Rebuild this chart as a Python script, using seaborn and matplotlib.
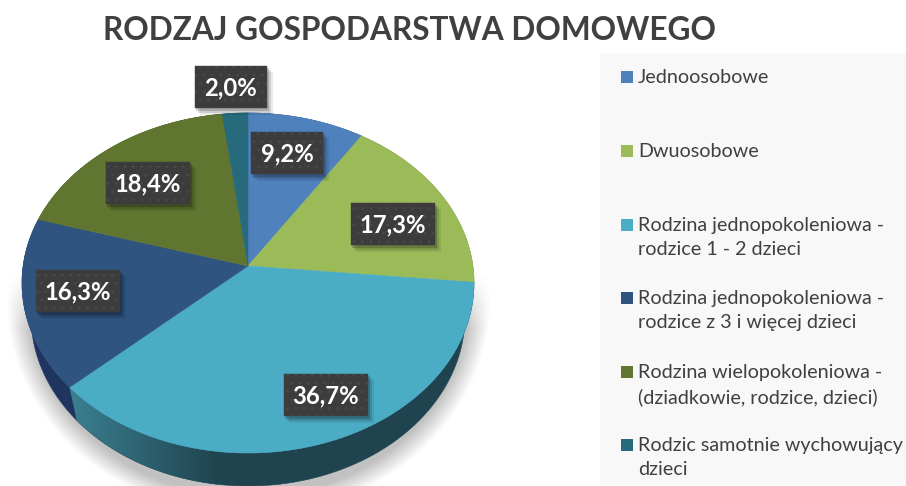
import numpy as np
import matplotlib
matplotlib.use("Agg")
import matplotlib.pyplot as plt
from matplotlib.patches import Polygon, Rectangle
import seaborn as sns

# ------------------------------------------------------------
# Rodzaj gospodarstwa domowego - "3D" pie
# ------------------------------------------------------------

title = "RODZAJ GOSPODARSTWA DOMOWEGO"
categories = [
    "Jednoosobowe",
    "Dwuosobowe",
    "Rodzina jednopokoleniowa -\nrodzice 1 - 2 dzieci",
    "Rodzina jednopokoleniowa -\nrodzice z 3 i więcej dzieci",
    "Rodzina wielopokoleniowa -\n(dziadkowie, rodzice, dzieci)",
    "Rodzic samotnie wychowujący\ndzieci",
]
values = [9.2, 17.3, 36.7, 16.3, 18.4, 2.0]

top_colors = ["#4f81bd", "#9bbb59", "#4bacc6", "#2f5480", "#5f7530", "#276a7c"]
side_colors = ["#3a5f8c", "#71893f", "#1f444f", "#1f3560", "#46561f", "#1c4e5b"]

# label box centres and legend rows, in reference pixels
label_px = [(287, 153), (393, 224), (326, 395), (78, 291), (148, 183), (231, 87)]
legend_rows_px = [77, 151, 225, 298, 372, 445]

W, H = 906, 486
CX, CY, RX, RY = 248, 283, 226, 170
DEPTH = 33 / RY
RIM = 0.96      # lower rim is a bit narrower than the top face
TILT = 0.1


def X(px):
    return (px - CX) / RX


def Y(py):
    return (CY - py) / RY


def tilt(xy):
    """Projective warp of the unit circle, moves the pie centre up."""
    xy = np.asarray(xy, dtype=float)
    d = 1 + TILT * xy[:, 1]
    return np.c_[xy[:, 0] * np.sqrt(1 - TILT ** 2) / d, (xy[:, 1] + TILT) / d]


sns.set_theme(style="white")
plt.rcParams["font.family"] = ["Lato", "DejaVu Sans"]
plt.rcParams["hatch.linewidth"] = 0.8

fig = plt.figure(figsize=(W / 100, H / 100), dpi=100, facecolor="white")
ax = fig.add_axes([0, 0, 1, 1])

wedges, _ = ax.pie(
    values,
    colors=sns.color_palette(top_colors),
    startangle=90,
    counterclock=False,
    radius=1,
)
ax.set_aspect("auto")
ax.axis("off")

# soft shadow under the pie
gx, gy = np.meshgrid(np.arange(0, W), np.arange(200, H))
e = np.sqrt(((gx - CX) / 242) ** 2 + ((gy - 300) / 215) ** 2)
alpha = np.clip((1 - e) / 0.09, 0, 1) * np.clip((gy - 275) / 55, 0, 1)
shadow = np.dstack([np.full(e.shape, 0.76)] * 3 + [alpha])
ax.imshow(shadow, extent=(X(0), X(W), Y(H), Y(200)), origin="upper", aspect="auto", zorder=1)

# redraw each wedge warped: side wall first, then the top face
apex = tilt([[0, 0]])
side_patches = []
for w, top, side in zip(wedges, top_colors, side_colors):
    t = np.radians(np.linspace(w.theta1, w.theta2, 120))
    arc = tilt(np.c_[np.cos(t), np.sin(t)])
    low = arc * [RIM, 1] - [0, DEPTH]
    patch = Polygon(np.vstack([arc, low[::-1]]), closed=True, fc=side, ec=side, lw=0.4, zorder=2)
    ax.add_patch(patch)
    side_patches.append(patch)
    ax.add_patch(Polygon(np.vstack([apex, arc]), closed=True, fc=top, ec=top, lw=0.4, zorder=5))
    w.set_visible(False)

# lighter part of the wall on the large slice
cmap = sns.blend_palette(["#3b8092", "#1f444f"], as_cmap=True)
grad = ax.imshow(
    np.linspace(0, 1, 200)[None, :], cmap=cmap, aspect="auto", zorder=3,
    extent=(X(68), X(218), Y(H), Y(380)),
)
grad.set_clip_path(side_patches[2])

# value labels
for (px, py), v in zip(label_px, values):
    txt = f"{v:.1f}%".replace(".", ",")
    half = 42 if v >= 10 else 35.5
    for off, a in [(7, 0.08), (5, 0.12), (3, 0.18)]:
        ax.add_patch(Rectangle((X(px - half + off - 2), Y(py + 21 + off)),
                               (2 * half + 1) / RX, (42 + 1) / RY,
                               fc="black", ec="none", alpha=a, zorder=6))
    ax.add_patch(Rectangle((X(px - half), Y(py + 21)), 2 * half / RX, 42 / RY,
                           fc="#3c3c3c", ec="#3c3c3c", lw=0.3, zorder=7))
    ax.add_patch(Rectangle((X(px - half), Y(py + 21)), 2 * half / RX, 42 / RY,
                           fc="none", ec="#494949", lw=0, hatch="..", zorder=7.5))
    ax.text(X(px), Y(py) - 0.005, txt, color="white", fontsize=17.2, fontweight="bold",
            ha="center", va="center", zorder=8)

# legend panel
ax.add_patch(Rectangle((X(600), Y(H)), (W - 600) / RX, (H - 53) / RY,
                       fc="#f8f8f8", ec="none", zorder=0))
for label, c, py in zip(categories, top_colors, legend_rows_px):
    ax.add_patch(Rectangle((X(621), Y(py + 6)), 12 / RX, 12 / RY, fc=c, ec="none", zorder=2))
    ax.text(X(638), Y(py - 8), label, color="#404040", fontsize=14.2, ha="left", va="top",
            linespacing=1.48, zorder=2)

ax.text(X(409.5), Y(31), title, color="#404040", fontsize=22.75, fontweight="bold",
        ha="center", va="center", zorder=8)

ax.set_xlim(X(0), X(W))
ax.set_ylim(Y(H), Y(0))

fig.savefig("out.png", dpi=100)
